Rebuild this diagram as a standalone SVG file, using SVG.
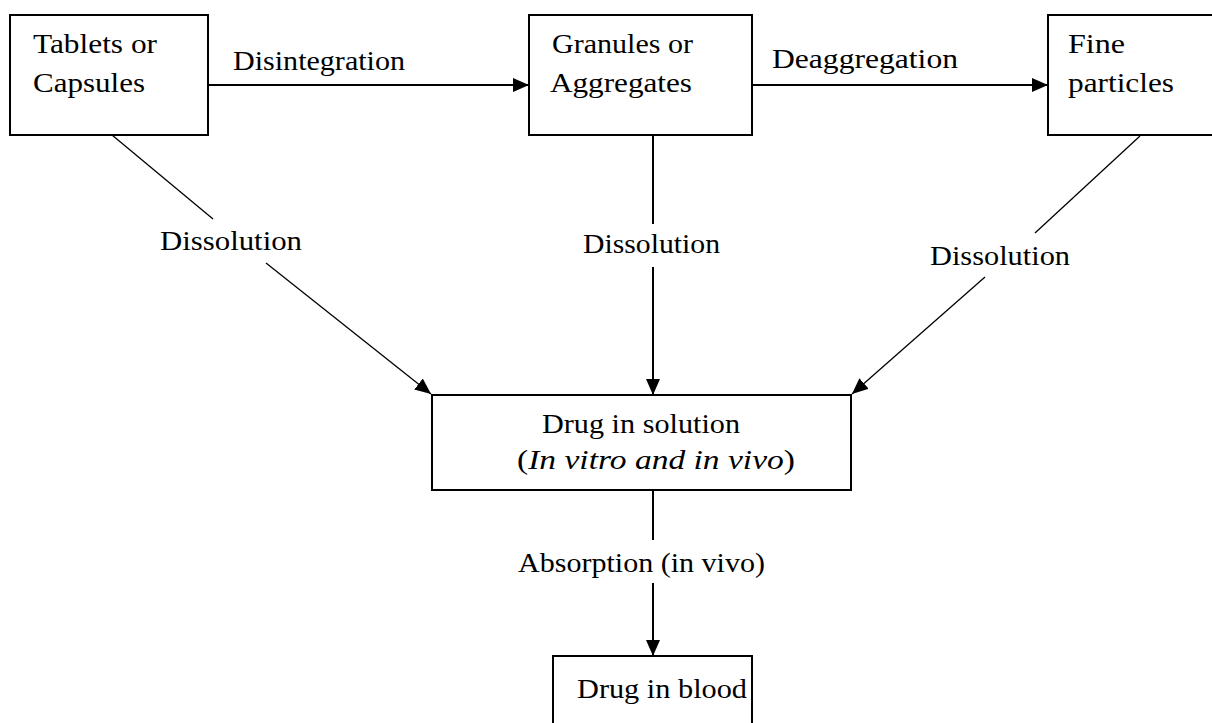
<svg xmlns="http://www.w3.org/2000/svg" width="1212" height="723" viewBox="0 0 1212 723">
<style>
.box{fill:#fff;stroke:#000;stroke-width:2}
.t{font-family:"Liberation Serif","Times New Roman",serif;font-size:27px;fill:#000}
.c{stroke:#000;stroke-width:2;fill:none}
.d{stroke:#000;stroke-width:1.3;fill:none}
</style>
<defs>
<marker id="ah" markerUnits="userSpaceOnUse" markerWidth="17" markerHeight="15" refX="16" refY="7" orient="auto">
<path d="M0,0 L16,7 L0,14 z" fill="#000"/>
</marker>
</defs>
<rect width="1212" height="723" fill="#fff"/>
<g id="connectors">
<line class="c" x1="208" y1="85" x2="529" y2="85" marker-end="url(#ah)"/>
<line class="c" x1="752" y1="85" x2="1048" y2="85" marker-end="url(#ah)"/>
<line class="d" x1="112" y1="135" x2="213" y2="219"/>
<line class="d" x1="266" y1="263" x2="431" y2="394" marker-end="url(#ah)"/>
<line class="c" x1="653" y1="135" x2="653" y2="224"/>
<line class="c" x1="653" y1="267" x2="653" y2="395" marker-end="url(#ah)"/>
<line class="d" x1="1140" y1="136" x2="1035" y2="233"/>
<line class="d" x1="985" y1="277" x2="852" y2="394" marker-end="url(#ah)"/>
<line class="c" x1="653" y1="490" x2="653" y2="540"/>
<line class="c" x1="653" y1="583" x2="653" y2="656" marker-end="url(#ah)"/>
<text class="t" x="233" y="70" textLength="172" lengthAdjust="spacingAndGlyphs">Disintegration</text>
<text class="t" x="772" y="68" textLength="186" lengthAdjust="spacingAndGlyphs">Deaggregation</text>
<text class="t" x="160" y="250" textLength="142" lengthAdjust="spacingAndGlyphs">Dissolution</text>
<text class="t" x="583" y="253" textLength="137" lengthAdjust="spacingAndGlyphs">Dissolution</text>
<text class="t" x="930" y="265" textLength="140" lengthAdjust="spacingAndGlyphs">Dissolution</text>
<text class="t" x="518" y="572" textLength="247" lengthAdjust="spacingAndGlyphs">Absorption (in vivo)</text>
</g>
<g id="tablets">
<rect class="box" x="10" y="15" width="198" height="120"/>
<text class="t" x="33" y="53" textLength="124" lengthAdjust="spacingAndGlyphs">Tablets or</text>
<text class="t" x="33" y="92" textLength="112" lengthAdjust="spacingAndGlyphs">Capsules</text>
</g>
<g id="granules">
<rect class="box" x="529" y="15" width="223" height="120"/>
<text class="t" x="552" y="53" textLength="141" lengthAdjust="spacingAndGlyphs">Granules or</text>
<text class="t" x="550" y="92" textLength="142" lengthAdjust="spacingAndGlyphs">Aggregates</text>
</g>
<g id="fine">
<rect class="box" x="1048" y="15" width="180" height="120"/>
<text class="t" x="1068" y="53" textLength="57" lengthAdjust="spacingAndGlyphs">Fine</text>
<text class="t" x="1068" y="92" textLength="106" lengthAdjust="spacingAndGlyphs">particles</text>
</g>
<g id="solution">
<rect class="box" x="432" y="395" width="419" height="95"/>
<text class="t" x="542" y="433" textLength="198" lengthAdjust="spacingAndGlyphs">Drug in solution</text>
<text class="t" x="517" y="469" textLength="278" lengthAdjust="spacingAndGlyphs">(<tspan font-style="italic">In vitro and in vivo</tspan>)</text>
</g>
<g id="blood">
<rect class="box" x="553" y="656" width="199" height="80"/>
<text class="t" x="577" y="698" textLength="170" lengthAdjust="spacingAndGlyphs">Drug in blood</text>
</g>
</svg>
